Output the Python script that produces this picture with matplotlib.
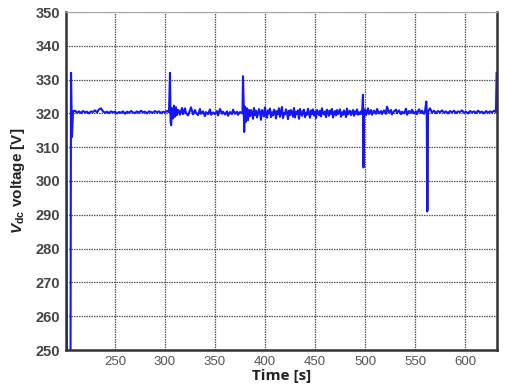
import matplotlib
matplotlib.use("Agg")
import matplotlib.pyplot as plt

# ---- data ----
t_start = [201, 202, 205.5, 206, 207, 208]
v_start = [333, 240, 240, 332, 313, 320.6]

t_b = [210, 212, 214, 216, 218, 220, 222, 224, 226, 228, 230, 232, 234, 236, 238, 240,
       242, 244, 246, 248, 250, 252, 254, 256, 258, 260, 262, 264, 266, 268, 270, 272,
       274, 276, 278, 280, 282, 284, 286, 288, 290, 292, 294, 296, 298, 300, 302, 304]
v_b = [320.8, 320.2, 320.6, 320.1, 320.7, 320.3, 320.5, 320.0, 320.6, 320.4, 320.9, 320.3,
       321.2, 321.5, 320.6, 320.2, 320.5, 320.1, 320.6, 320.3, 320.5, 320.0, 320.4, 320.2,
       320.6, 319.9, 320.5, 320.2, 320.7, 320.3, 320.1, 320.6, 320.2, 320.8, 320.3, 320.5,
       320.0, 320.6, 320.4, 320.2, 320.7, 320.3, 320.6, 320.1, 320.5, 320.3, 320.7, 320.4]

t_s1 = [305, 305.6, 306.2, 307, 308, 309, 310, 311, 312, 313]
v_s1 = [332, 317.5, 316.5, 321.5, 318.5, 322.3, 319, 321.8, 319.5, 321]

t_c = [314, 315, 317, 318, 320, 321, 323, 325, 326, 328, 330, 331, 333, 335, 336, 338,
       340, 341, 343, 345, 346, 348, 350, 352, 353, 355, 357, 358, 360, 362, 363, 365,
       367, 368, 370, 372, 373, 375, 377.5]
v_c = [320.8, 319.6, 321.6, 319.8, 321.5, 320.1, 319.4, 320.9, 321.8, 319.7, 321.0, 320.2,
       319.5, 321.3, 319.9, 320.6, 319.2, 320.4, 319.8, 321.2, 319.6, 320.3, 319.8, 320.7,
       319.4, 321.3, 319.9, 320.5, 319.7, 320.6, 319.3, 320.4, 319.8, 321.1, 319.9, 320.5,
       319.6, 320.4, 320.0]

t_s2 = [378, 378.6, 379.2, 380, 381, 382, 383, 384]
v_s2 = [331, 324, 314.5, 322, 317.5, 321.5, 318, 321]

t_d = list(range(385, 498))
v_d = [319.2, 321.0, 320.1, 318.4, 321.6, 319.5, 320.8, 318.8, 319.9, 321.3,
       320.2, 318.1, 321.0, 320.4, 319.1, 321.8, 319.6, 318.7, 320.9, 320.0,
       321.4, 318.9, 320.3, 319.4, 321.1, 320.6, 318.5, 320.7, 319.8, 321.5,
       319.0, 320.4, 321.9, 318.6, 320.1, 319.7, 321.2, 320.3, 318.3, 320.8,
       319.5, 321.0, 320.2, 319.0, 321.6, 318.8, 320.5, 319.9, 320.9, 318.4,
       321.3, 320.0, 319.3, 320.7, 321.1, 318.9, 320.2, 319.6, 321.4, 320.1,
       318.7, 320.9, 319.8, 321.2, 319.4, 320.5, 318.6, 321.0, 320.3, 319.5,
       320.8, 319.1, 321.5, 320.0, 319.7, 320.6, 318.9, 321.1, 320.4, 319.3,
       320.9, 319.9, 321.3, 318.8, 320.2, 320.7, 319.4, 321.0, 319.8, 320.5,
       321.2, 319.0, 320.3, 319.6, 320.9, 320.1, 318.9, 321.4, 319.7, 320.4,
       320.8, 319.5, 320.2, 321.0, 319.3, 320.6, 319.9, 321.2, 319.6, 320.3,
       319.8, 320.6, 319.8]

t_s3 = [498, 498.5, 499]
v_s3 = [325.5, 304, 320.5]

t_e = [500, 501, 503, 504, 506, 507, 509, 511, 512, 514, 516, 517, 519, 521, 522, 524,
       526, 527, 529, 531, 532, 534, 536, 537, 539, 541, 542, 544, 546, 547, 549, 551,
       552, 554, 556, 557, 559, 560]
v_e = [321.2, 319.5, 321.5, 319.8, 321.0, 319.6, 320.8, 319.9, 321.3, 320.0, 320.7, 319.8,
       320.9, 319.9, 322.0, 320.2, 321.0, 319.7, 320.6, 321.1, 320.1, 320.9, 319.8, 320.5,
       320.0, 321.4, 319.6, 320.7, 320.2, 321.1, 320.0, 320.6, 319.8, 321.2, 320.1, 320.8,
       319.9, 320.6]

t_s4 = [561.3, 561.8, 562.2, 562.6, 563]
v_s4 = [323.5, 320, 291, 291.5, 320.5]

t_f = [565, 567, 569, 571, 573, 575, 577, 579, 581, 583, 585, 587, 589, 591, 593, 595,
       597, 599, 601, 603, 605, 607, 609, 611, 613, 615, 617, 619, 621, 623, 625, 627,
       629, 631, 631.6]
v_f = [321.5, 320.2, 320.8, 320.1, 320.7, 320.3, 320.9, 320.2, 320.6, 320.0, 320.7, 320.3,
       320.8, 320.1, 320.6, 320.4, 320.9, 320.2, 320.5, 320.0, 320.7, 320.3, 320.6, 320.1,
       320.8, 320.3, 320.5, 320.0, 320.7, 320.2, 320.6, 320.3, 320.8, 320.4, 332]

time = t_start + t_b + t_s1 + t_c + t_s2 + t_d + t_s3 + t_e + t_s4 + t_f
volt = v_start + v_b + v_s1 + v_c + v_s2 + v_d + v_s3 + v_e + v_s4 + v_f

x_ticks = [250, 300, 350, 400, 450, 500, 550, 600]
y_ticks = [250, 260, 270, 280, 290, 300, 310, 320, 330, 340, 350]

# ---- figure ----
plt.rcParams['font.family'] = ['Liberation Sans', 'DejaVu Sans']
plt.rcParams['mathtext.fontset'] = 'custom'
plt.rcParams['mathtext.it'] = 'Liberation Sans:bold:italic'
plt.rcParams['mathtext.rm'] = 'Liberation Sans:bold'
plt.rcParams['mathtext.bf'] = 'Liberation Sans:bold'

fig = plt.figure(figsize=(5.06, 3.92), dpi=100)
ax = fig.add_axes([66/506, 1-350/392, (497-66)/506, (350-12)/392])

ax.plot(time, volt, color='#1414ff', lw=1.5)

ax.set_xlim(201, 632)
ax.set_ylim(250, 350)
ax.set_xticks(x_ticks)
ax.set_yticks(y_ticks)
ax.grid(True, color='#555555', linestyle=(0, (1.2, 0.8)), linewidth=0.9)
ax.set_axisbelow(True)

ax.tick_params(axis='both', length=0, pad=4)
for lab in ax.get_yticklabels():
    lab.set_fontweight('bold')
    lab.set_color('#444444')
    lab.set_fontsize(10.5)
for lab in ax.get_xticklabels():
    lab.set_color('#555555')
    lab.set_fontsize(9.5)

for side in ['left', 'bottom', 'right']:
    ax.spines[side].set_color('#333333')
    ax.spines[side].set_linewidth(1.8)
ax.spines['top'].set_color('#aaaaaa')
ax.spines['top'].set_linewidth(0.8)

ax.set_xlabel('Time [s]', fontsize=11, fontweight='bold', color='#222222', labelpad=1,
              family=['Open Sans', 'DejaVu Sans'])
ax.set_ylabel(r'$V_{\mathrm{dc}}$ voltage [V]', fontsize=11,
              fontweight='bold', color='#222222', labelpad=6)

fig.savefig('out.png', dpi=100)
